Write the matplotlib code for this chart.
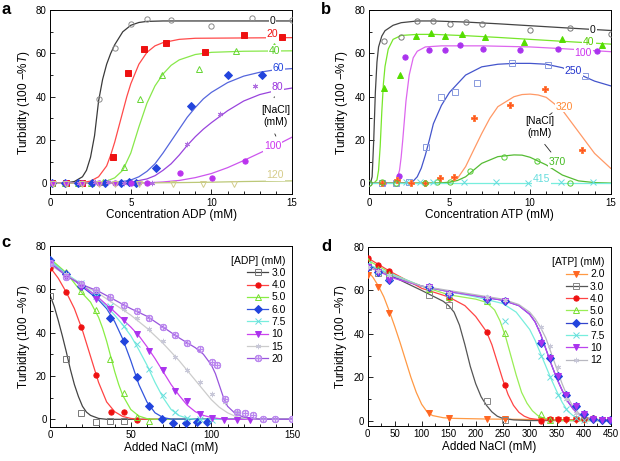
import matplotlib
matplotlib.use("Agg")
import matplotlib.pyplot as plt
from matplotlib.lines import Line2D
from matplotlib.ticker import MultipleLocator

plt.rcParams["font.family"] = ["Liberation Sans", "DejaVu Sans"]
plt.rcParams["mathtext.fontset"] = "custom"
plt.rcParams["mathtext.rm"] = "Liberation Sans"
plt.rcParams["mathtext.it"] = "Liberation Sans:italic"

# ---------------- panel a : turbidity vs ADP at several [NaCl] ----------------
a_names = ["0", "20", "40", "60", "80", "100", "120"]
a_pts_x = [
    [0.1, 1.0, 1.8, 3.0, 4.0, 5.0, 6.0, 7.5, 10.0, 12.5, 15.0],
    [0.1, 1.0, 2.0, 3.9, 4.8, 5.8, 7.2, 9.6, 12.0, 14.4],
    [0.1, 0.9, 1.7, 2.5, 3.3, 4.6, 5.55, 6.95, 9.25, 11.55, 13.9],
    [0.1, 0.9, 1.7, 2.6, 3.4, 4.4, 4.9, 5.3, 6.55, 8.75, 11.0, 13.15],
    [0.2, 1.0, 1.8, 2.8, 3.6, 4.6, 5.5, 6.3, 8.5, 10.55, 12.7],
    [0.1, 1.0, 2.0, 3.0, 4.0, 5.0, 6.0, 8.05, 10.05, 12.1],
    [0.2, 1.0, 2.0, 3.0, 4.0, 5.5, 7.6, 9.5, 11.4],
]
a_pts_y = [
    [0, 0, 0, 39, 62.5, 73.5, 75.8, 75.6, 72.6, 76.3, 75.4],
    [0, 0, 0.2, 12.3, 51, 62, 64.6, 60.8, 68.5, 67.8],
    [0, 0, 0, 0, 0.5, 7.7, 38.8, 50, 52.8, 61.2, 63.2],
    [0, 0, 0, 0, 0.3, 0.3, 0.5, 0.3, 7, 35.8, 49.8, 49.8],
    [0, 0, 0, 0.5, 0.5, 0.3, 0.2, 0.2, 18, 31.8, 45],
    [0, 0, 0, 0, 0.2, 0.3, 0.2, 4.8, 2.5, 10.5],
    [-0.5, -0.5, -0.5, -0.5, -0.5, -0.5, -0.3, -0.3, -0.3],
]
a_fit_x = [
    [0, 1.0, 1.5, 2.0, 2.25, 2.5, 2.75, 3.0, 3.25, 3.5, 3.75, 4.0, 4.5, 5.0, 5.5, 6.0, 7.0, 15],
    [0, 2.0, 2.5, 3.0, 3.5, 3.75, 4.0, 4.25, 4.5, 4.75, 5.0, 5.5, 6.0, 6.5, 7.0, 8.0, 9.0, 15],
    [0, 3.0, 3.5, 4.0, 4.5, 5.0, 5.5, 6.0, 6.5, 7.0, 7.5, 8.0, 9.0, 10, 12, 15],
    [0, 3.5, 4.5, 5.0, 5.5, 6.0, 6.5, 7.0, 7.5, 8.0, 8.5, 9.0, 9.5, 10, 11, 12, 13, 14, 15],
    [0, 4.5, 5.0, 6.0, 6.5, 7.0, 7.5, 8.0, 8.5, 9.0, 9.5, 10, 11, 12, 13, 14, 15],
    [0, 6.0, 7.0, 8.0, 9.0, 10, 11, 12, 13, 14, 15],
    [0, 5, 8, 10, 12, 15],
]
a_fit_y = [
    [0, 0.2, 0.8, 3, 6, 12, 22, 38, 48, 55, 60, 64, 70, 73, 74.3, 74.8, 75, 75],
    [0, 0.3, 1, 3, 8, 13, 19, 26, 33, 40, 46, 55, 60.5, 63.5, 65, 66.5, 67, 67.3],
    [0, 0.3, 1, 2.5, 6, 14, 26, 37, 45, 50.5, 54.5, 57, 59.5, 60.5, 61, 61.2],
    [0, 0.2, 0.8, 1.5, 3, 5.5, 9, 14, 19.5, 25, 30.5, 35, 39, 42, 46.5, 49.5, 51.3, 52.5, 53],
    [0, 0.2, 0.5, 2, 3.5, 6, 9, 13, 17.5, 21.5, 25, 28, 33.5, 38, 41, 42.8, 44],
    [0, 0.2, 0.6, 1.3, 2.6, 4.5, 7.2, 10.5, 14, 17.5, 21.3],
    [0, 0.1, 0.3, 0.5, 0.8, 1.1],
]
a_tag_x = [13.8, 13.8, 13.9, 14.15, 14.1, 13.8, 13.97]
a_tag_y = [75, 68.9, 61.2, 53.2, 44.3, 17, 3.8]

# ---------------- panel b : turbidity vs ATP at several [NaCl] ----------------
b_names = ["0", "40", "100", "250", "320", "370", "415"]
b_pts_x = [
    [0.0, 0.95, 2.0, 3.0, 4.0, 5.0, 6.0, 7.0, 10.0, 12.5, 15.0],
    [0.95, 1.9, 2.9, 3.85, 4.75, 5.75, 7.2, 9.65, 12.0, 14.45],
    [0.9, 1.86, 2.27, 3.74, 4.71, 5.64, 7.07, 9.4, 11.76, 14.13],
    [0.8, 1.7, 2.5, 3.55, 4.45, 5.35, 6.7, 8.9, 11.1, 13.4],
    [0.8, 1.75, 2.6, 3.5, 4.4, 5.3, 6.55, 8.75, 10.95, 13.2],
    [0.0, 0.8, 1.7, 3.5, 4.2, 5.0, 6.25, 8.35, 10.4, 12.5],
    [2.3, 3.2, 4.0, 5.9, 7.9, 9.9, 11.9, 13.9],
]
b_pts_y = [
    [0, 65.8, 67.4, 74.9, 74.9, 73.5, 74.3, 73.4, 70.9, 71.7, 69.1],
    [43.8, 50.2, 68.2, 69.5, 68, 69.1, 67.8, 65.4, 66.5, 63.8],
    [0.3, 3.4, 58.2, 61.5, 61.8, 63.8, 62.2, 61.5, 62, 61],
    [0.3, 0.3, 0.5, 16.9, 40, 42, 46.3, 55.4, 54.6, 49.5],
    [0.3, 1.5, 0, 0, 2.6, 3.1, 30.2, 36, 43.4, 15.2],
    [0.3, 0.5, 0.3, 0.3, 0.5, 0.5, 5.7, 12, 10.3, 0.3],
    [0.5, 0.5, 0.5, 0.5, 0.5, 0.3, 0.5, 0.5],
]
b_fit_x = [
    [0, 0.1, 0.2, 0.3, 0.4, 0.5, 0.6, 0.8, 1.0, 1.5, 2.0, 3, 4, 6, 8, 10, 12, 15],
    [0, 0.3, 0.5, 0.6, 0.7, 0.8, 0.9, 1.0, 1.2, 1.5, 2.0, 3, 4, 6, 8, 10, 12, 15],
    [0, 1.5, 1.7, 1.9, 2.0, 2.1, 2.3, 2.5, 2.75, 3.0, 3.5, 4.5, 7, 10, 12, 15],
    [0, 2.25, 2.5, 2.75, 3.0, 3.25, 3.5, 3.75, 4.0, 4.5, 5.0, 6, 7, 8, 9, 10, 11, 12, 13, 14, 15],
    [0, 4.5, 5.0, 5.5, 6.0, 6.5, 7.0, 7.5, 8.0, 9.0, 9.5, 10, 10.5, 11, 12, 13, 14, 15],
    [0, 4.0, 4.5, 5.0, 5.5, 6, 7, 8, 9, 9.5, 10, 11, 12, 13, 14, 15],
    [0, 5, 10, 15],
]
b_fit_y = [
    [0, 0, 3, 20, 42, 56, 63, 68, 70.5, 73, 74.2, 75, 75, 74.5, 73.7, 72.8, 71.9, 70.6],
    [0, 0, 1.5, 6, 17, 33, 46, 54, 62, 66.5, 68.3, 68.8, 68.8, 68.2, 67.4, 66.5, 65.6, 64.3],
    [0, 0, 1, 6, 12, 20, 38, 50, 58, 61, 63, 63.5, 63.5, 63, 62.2, 60.8],
    [0, 0.1, 0.3, 1, 3, 7, 13, 20, 27.5, 36, 42, 50, 53.8, 55, 55.4, 55.4, 55, 53.4, 50.5, 47.2, 45],
    [0, 0.1, 0.3, 2.3, 7.7, 15.4, 23, 30, 35.4, 40, 41, 41.2, 40.8, 39.7, 33.8, 23.8, 13.8, 6.9],
    [0, 0.1, 0.2, 0.5, 1.3, 3, 9.2, 12.3, 13.1, 13, 12, 8.5, 3.8, 1.1, 0.3, 0.1],
    [0.3, 0.3, 0.3, 0.3],
]
b_tag_x = [13.9, 13.65, 13.3, 12.7, 12.15, 11.7, 10.7]
b_tag_y = [71, 65.5, 60, 52, 35.4, 9.8, 2]

# ---------------- panel c : turbidity vs added NaCl, several [ADP] ----------------
c_names = ["3.0", "4.0", "5.0", "6.0", "7.5", "10", "15", "20"]
c_pts_x = [
    [0, 9.7, 19, 28.5, 37.3, 45.5],
    [0, 9.7, 19.2, 28.7, 37.5, 45.6, 53.8],
    [0, 9.7, 18.8, 28.7, 37.3, 45.8, 53.8, 61.3],
    [0, 9.7, 19.3, 28.7, 37.1, 45.8, 53.8, 61.5, 69.5, 76.3, 84, 90.8, 97],
    [0, 9.7, 19.4, 28.7, 37.3, 45.8, 53.8, 61.5, 69.7, 77.2, 85, 92.8, 100.3],
    [0, 9.7, 19.4, 28.7, 37.1, 45.8, 53.8, 61.5, 69.7, 77.2, 85, 92.8, 100.3, 108, 116, 124],
    [0, 9.7, 19.4, 28.7, 37.3, 45.8, 53.8, 61.5, 69.7, 77.2, 85, 92.8, 100.3, 108.3, 116],
    [0, 9.7, 19.4, 28.7, 37.1, 45.8, 53.8, 61.5, 69.7, 77.2, 85, 92.8, 100.3, 103.2, 108.3,
     116, 121, 126, 132, 139.7, 150],
]
c_pts_y = [
    [57, 27.8, 3.1, -1.4, -0.8, -0.8],
    [69.8, 58.5, 42.7, 20.5, 3.4, 3.4, -0.5],
    [74, 67.7, 59, 50.5, 28, 12, 1, -0.8],
    [73.5, 67, 61.5, 57.5, 46.8, 36.2, 19.4, 6.2, 0, -1.5, -1.5, -1.2, -1.3],
    [72.6, 66.5, 62.9, 57, 52, 43, 34.5, 23.4, 11.4, 3.4, 0.6, 0, -0.5],
    [72, 65.8, 61, 55.4, 50.9, 45.7, 39.5, 31.7, 22.5, 13.1, 8.3, 2.3, 0.8, -0.2, -0.5, -0.5],
    [71, 66.8, 62.7, 59.5, 55.5, 50.9, 46.9, 41.4, 36.3, 28.9, 22.9, 17.2, 11.8, 8, 3.4],
    [72, 65.7, 62.3, 59.8, 56.2, 52.9, 50, 46.6, 42.6, 38.9, 35.2, 32.5, 26.2, 25, 9.5,
     3.2, 2.9, 1.8, 0.3, 0.2, 0.2],
]
c_fit_x = [
    [0, 2.5, 5, 7.5, 10, 12.5, 15, 17.5, 20, 22.5, 25, 30, 35, 150],
    [0, 5, 10, 15, 20, 25, 30, 35, 40, 45, 50, 55, 150],
    [0, 10, 20, 25, 30, 32.5, 35, 37.5, 40, 42.5, 45, 50, 55, 60, 65, 150],
    [0, 10, 20, 30, 35, 40, 45, 50, 55, 60, 65, 70, 75, 150],
    [0, 10, 20, 30, 40, 45, 50, 55, 60, 65, 70, 75, 80, 85, 90, 150],
    [0, 10, 20, 30, 40, 50, 55, 60, 65, 70, 75, 80, 85, 90, 95, 100, 105, 110, 150],
    [0, 10, 20, 30, 40, 50, 60, 70, 80, 90, 95, 100, 105, 110, 115, 120, 125, 150],
    [0, 10, 20, 30, 40, 50, 60, 70, 80, 90, 95, 100, 102.5, 105, 107.5, 110, 115, 120, 125,
     130, 150],
]
c_fit_y = [
    [57, 52, 45.5, 38.5, 31, 23, 16, 10.5, 6, 3.3, 1.8, 0.4, 0, 0],
    [70, 65, 58.5, 51, 41, 29, 17, 8, 3.5, 1.3, 0.4, 0, 0],
    [74, 67.5, 58, 54, 47, 42, 36, 29, 22, 16, 11, 4.5, 1.5, 0.3, 0, 0],
    [73, 67, 61, 55, 51, 45, 37, 27, 16, 8, 3, 0.8, 0.1, 0],
    [73, 67, 62, 56, 48, 43.5, 38.5, 32, 25, 17, 10, 4.5, 1.7, 0.5, 0, 0],
    [72, 66.5, 61.5, 56, 49.5, 42.5, 38.5, 33.5, 28, 22, 16, 11, 6.5, 3.5, 1.8, 0.8, 0.3, 0, 0],
    [71, 66.5, 62, 58, 53, 48, 42, 35, 27, 18, 13.5, 9, 5.5, 3, 1.3, 0.5, 0, 0],
    [72, 66, 62, 59, 55, 51, 47.5, 42.5, 37.5, 33, 30, 25, 21, 15.5, 10, 6, 2.5, 1, 0.3, 0, 0],
]

# ---------------- panel d : turbidity vs added NaCl, several [ATP] ----------------
d_names = ["2.0", "3.0", "4.0", "5.0", "6.0", "7.5", "10", "12"]
d_pts_x = [
    [0, 20, 40, 113, 150, 221, 255, 321, 337, 353, 368, 385, 400, 417, 433, 449],
    [0, 20, 40, 113, 150, 221, 255],
    [0, 20, 40, 113, 150, 221, 255, 321, 337, 353, 368, 385, 400, 417],
    [0, 20, 40, 113, 150, 221, 255, 321, 337],
    [0, 20, 40, 113, 150, 221, 255, 321, 337, 353, 368, 385, 400, 417, 433, 449],
    [0, 20, 40, 113, 150, 221, 255, 321, 337, 353, 368, 385, 400],
    [0, 20, 40, 113, 150, 221, 255, 321, 337, 353, 368, 385, 400, 417, 433, 449],
    [0, 20, 40, 113, 150, 221, 255, 321, 337, 353, 368, 385],
]
d_pts_y = [
    [67, 61.4, 49.8, 3.4, 1.2, 0.8, 0.6, 0.3, 0.3, 0.3, 0.3, 0.3, 0.3, 0.3, 0.3, 0.3],
    [71, 68, 66.5, 58, 53.4, 8.8, 0.3],
    [74.8, 71.7, 68.9, 61, 56.6, 40.8, 16.6, 0, 0.5, 0.5, 0.5, 0.5, 0.5, 1],
    [73.5, 70.1, 67.5, 60.5, 57, 55, 40.2, 3.1, 0.2],
    [71, 68.5, 65, 61.4, 58.5, 56.2, 55, 35.8, 28.8, 20.6, 11.8, 6.8, 3.1, 0.8, 0.2, 0.2],
    [72, 69, 66, 61.5, 58.5, 55.5, 46, 30, 20, 11.7, 5.5, 1.2, 0.3],
    [70.8, 68.5, 65, 61.4, 58.5, 56.2, 55, 35.8, 28.8, 20.6, 11.8, 6.8, 3.1, 0.8, 0.2, 0.2],
    [71, 69, 67, 62, 59, 57, 55.5, 43, 34.6, 24.6, 10, 3.5],
]
d_fit_x = [
    [0, 10, 20, 30, 40, 50, 60, 70, 80, 90, 100, 110, 120, 140, 160, 220, 300, 450],
    [0, 50, 100, 120, 140, 150, 160, 170, 180, 190, 200, 210, 220, 230, 240, 250, 270, 300, 450],
    [0, 20, 40, 100, 150, 180, 200, 220, 230, 240, 250, 260, 270, 280, 290, 300, 320, 450],
    [0, 50, 100, 150, 200, 220, 235, 245, 255, 265, 275, 285, 295, 305, 315, 325, 340, 360, 450],
    [0, 50, 100, 150, 200, 250, 280, 300, 310, 320, 330, 340, 350, 360, 370, 380, 390, 400, 420, 450],
    [0, 100, 200, 250, 275, 300, 310, 320, 330, 340, 350, 360, 370, 380, 390, 400, 420, 450],
    [0, 50, 100, 150, 200, 250, 280, 300, 310, 320, 330, 340, 350, 360, 370, 380, 390, 400, 420, 450],
    [0, 100, 200, 250, 280, 300, 310, 320, 330, 340, 350, 360, 370, 380, 390, 400, 420, 450],
]
d_fit_y = [
    [69, 66, 62, 57, 50.5, 43.5, 36, 28, 20, 13, 7.5, 4, 2.3, 1.3, 1, 0.7, 0.5, 0.3],
    [72, 66, 60, 57.5, 55, 53, 50, 44, 35, 25, 17, 11, 7, 4, 2, 1, 0.3, 0, 0],
    [75, 72, 69, 61, 57, 53, 48, 41, 35, 27, 19, 12, 7, 3.8, 2, 1, 0.3, 0],
    [74, 67, 62, 58, 56, 54.5, 51, 46, 39, 30, 21, 13, 8, 4.5, 2.3, 1.2, 0.4, 0, 0],
    [71.5, 66, 62, 59.5, 57.5, 55.5, 53, 49, 45.5, 40, 33, 26, 19.5, 14, 9, 5.5, 3, 1.6, 0.5, 0],
    [72, 62, 57, 54, 50, 42, 37, 31, 25, 19, 13.5, 8.5, 4.5, 2.3, 1, 0.4, 0, 0],
    [71, 65.5, 62, 59.5, 57.5, 55.5, 53, 49, 45.5, 40, 33, 26, 19.5, 14, 9, 5.5, 3, 1.6, 0.5, 0],
    [71, 62, 58, 56, 53.5, 50, 47, 43, 38, 31, 24, 17, 11, 6.5, 3.5, 1.8, 0.6, 0.1],
]

# styles: (line colour, marker, face colour, edge colour)
a_style = [
    ("#3a3a3a", "o", "none", "#8a8a8a"),
    ("#ff4a4a", "s", "#ee1111", "#ee1111"),
    ("#88e84a", "^", "none", "#66d633"),
    ("#5566dd", "D", "#2244dd", "#2244dd"),
    ("#9944dd", (6, 2, 0), "#aa66dd", "#b070e0"),
    ("#cc55ee", "o", "#bb33ee", "#bb33ee"),
    ("#bcc878", "v", "none", "#d2cc8c"),
]
a_tag_col = ["#111111", "#ee1111", "#55cc22", "#2244dd", "#9933dd", "#cc33ee", "#d6cc8a"]

b_style = [
    ("#444444", "o", "none", "#777777"),
    ("#77e62a", "^", "#55dd00", "#55dd00"),
    ("#dd66ee", "o", "#aa33ee", "#aa33ee"),
    ("#4455cc", "s", "none", "#8899dd"),
    ("#ff9966", "P", "#ff5522", "#ff7a3a"),
    ("#55bb33", "o", "none", "#55cc33"),
    ("#77eedd", "x", "#66dddd", "#66dddd"),
]
b_tag_col = ["#111111", "#55cc00", "#cc33ee", "#2233cc", "#ff8833", "#44bb22", "#66dddd"]

c_style = [
    ("#444444", "s", "none", "#777777"),
    ("#ff4444", "o", "#ee1111", "#ee1111"),
    ("#88ee44", "^", "none", "#77dd33"),
    ("#3355dd", "D", "#2244dd", "#2244dd"),
    ("#77eedd", "x", "#66dddd", "#66dddd"),
    ("#cc44ee", "v", "#aa33ee", "#aa33ee"),
    ("#cccccc", (6, 2, 0), "#c8c8d8", "#c8c8d8"),
    ("#9955dd", r"$\oplus$", "#bb88ee", "#bb88ee"),
]

d_style = [
    ("#ff9944", "v", "#ff6622", "#ff6622"),
    ("#555555", "s", "none", "#888888"),
    ("#ff4444", "o", "#ee1111", "#ee1111"),
    ("#99ee55", "^", "none", "#77dd33"),
    ("#3344cc", "D", "#2244dd", "#2244dd"),
    ("#77eedd", "x", "#66dddd", "#66dddd"),
    ("#bb44ee", "v", "#aa33ee", "#aa33ee"),
    ("#b8b8c0", (6, 2, 0), "#c8c8d8", "#c8c8d8"),
]

YLABEL = "Turbidity (100 \u2212%$T$)"
MS = 3.8


def marker_size(mk):
    # the filled plus and the mathtext marker read smaller than the rest
    if mk == "P":
        return MS + 1.0
    if isinstance(mk, str) and mk.startswith("$"):
        return MS + 0.8
    return MS


def draw_series(ax, fx, fy, px, py, style):
    lc, mk, fc, ec = style
    ax.plot(fx, fy, color=lc, lw=0.9, zorder=2)
    ax.plot(px, py, ls="none", marker=mk, ms=marker_size(mk), mfc=fc, mec=ec,
            mew=0.7, zorder=3)


def style_axes(ax, xmax, xmaj, xmin, ymin_lim):
    ax.set_xlim(0, xmax)
    ax.set_ylim(ymin_lim, 80)
    ax.xaxis.set_major_locator(MultipleLocator(xmaj))
    ax.xaxis.set_minor_locator(MultipleLocator(xmin))
    ax.yaxis.set_major_locator(MultipleLocator(20))
    ax.yaxis.set_minor_locator(MultipleLocator(10))
    ax.tick_params(which="both", direction="in", labelsize=7, width=0.6, pad=2.5)
    ax.tick_params(which="major", length=3.5)
    ax.tick_params(which="minor", length=2)
    for sp in ax.spines.values():
        sp.set_linewidth(0.7)
    ax.set_ylabel(YLABEL, fontsize=8.5, labelpad=3)


def make_legend(ax, names, styles, title):
    handles = []
    for name, (lc, mk, fc, ec) in zip(names, styles):
        handles.append(Line2D([], [], color=lc, lw=0.9, marker=mk, ms=marker_size(mk),
                              mfc=fc, mec=ec, mew=0.7, label=name))
    leg = ax.legend(handles=handles, title=title, loc="upper right",
                    bbox_to_anchor=(1.0, 0.98), frameon=False, fontsize=7.5,
                    title_fontsize=7.5, handlelength=2.0, handletextpad=0.3,
                    labelspacing=0.22, borderaxespad=0.2)
    leg._legend_box.align = "right"


fig = plt.figure(figsize=(6.2, 4.61), dpi=100)
ax_a = fig.add_axes([0.081, 0.579, 0.390, 0.399])
ax_b = fig.add_axes([0.595, 0.579, 0.390, 0.399])
ax_c = fig.add_axes([0.081, 0.074, 0.390, 0.393])
ax_d = fig.add_axes([0.593, 0.076, 0.392, 0.388])

tag_box = dict(boxstyle="square,pad=0.08", fc="white", ec="none")

# panel a
for i in range(len(a_names)):
    draw_series(ax_a, a_fit_x[i], a_fit_y[i], a_pts_x[i], a_pts_y[i], a_style[i])
    ax_a.text(a_tag_x[i], a_tag_y[i], a_names[i], color=a_tag_col[i], fontsize=7.5,
              ha="center", va="center", bbox=tag_box, zorder=4)
ax_a.text(14.0, 31, "[NaCl]\n(mM)", fontsize=7.5, ha="center", va="center",
          linespacing=1.25, bbox=tag_box, zorder=4)
ax_a.annotate("", xy=(13.95, 41.2), xytext=(13.84, 38.3),
              arrowprops=dict(arrowstyle="-", color="#222222", lw=0.6))
ax_a.annotate("", xy=(13.86, 24.0), xytext=(14.07, 20.6),
              arrowprops=dict(arrowstyle="-", color="#222222", lw=0.6))
style_axes(ax_a, 15, 5, 1, -5)
ax_a.set_xlabel("Concentration ADP (mM)", fontsize=8.5, labelpad=1)

# panel b
for i in range(len(b_names)):
    draw_series(ax_b, b_fit_x[i], b_fit_y[i], b_pts_x[i], b_pts_y[i], b_style[i])
    ax_b.text(b_tag_x[i], b_tag_y[i], b_names[i], color=b_tag_col[i], fontsize=7.5,
              ha="center", va="center", bbox=tag_box, zorder=4)
ax_b.text(10.6, 26, "[NaCl]\n(mM)", fontsize=7.5, ha="center", va="center",
          linespacing=1.25, bbox=tag_box, zorder=4)
ax_b.annotate("", xy=(11.5, 33.4), xytext=(11.05, 30.6),
              arrowprops=dict(arrowstyle="-", color="#222222", lw=0.6))
ax_b.annotate("", xy=(10.8, 19.0), xytext=(11.4, 13.4),
              arrowprops=dict(arrowstyle="-", color="#222222", lw=0.6))
style_axes(ax_b, 15, 5, 1, -5)
ax_b.set_xlabel("Concentration ATP (mM)", fontsize=8.5, labelpad=1)

# panel c
for i in range(len(c_names)):
    draw_series(ax_c, c_fit_x[i], c_fit_y[i], c_pts_x[i], c_pts_y[i], c_style[i])
style_axes(ax_c, 150, 50, 10, -3.5)
ax_c.set_xlabel("Added NaCl (mM)", fontsize=8.5, labelpad=1)
make_legend(ax_c, c_names, c_style, "[ADP] (mM)")

# panel d
for i in range(len(d_names)):
    draw_series(ax_d, d_fit_x[i], d_fit_y[i], d_pts_x[i], d_pts_y[i], d_style[i])
style_axes(ax_d, 450, 50, 25, -2.5)
ax_d.set_xlabel("Added NaCl (mM)", fontsize=8.5, labelpad=1)
make_legend(ax_d, d_names, d_style, "[ATP] (mM)")

for letter, x, y in [("a", 0.003, 0.995), ("b", 0.518, 0.995),
                     ("c", 0.003, 0.49), ("d", 0.518, 0.482)]:
    fig.text(x, y, letter, fontsize=12, fontweight="bold", ha="left", va="top")

fig.savefig("out.png", dpi=100)
